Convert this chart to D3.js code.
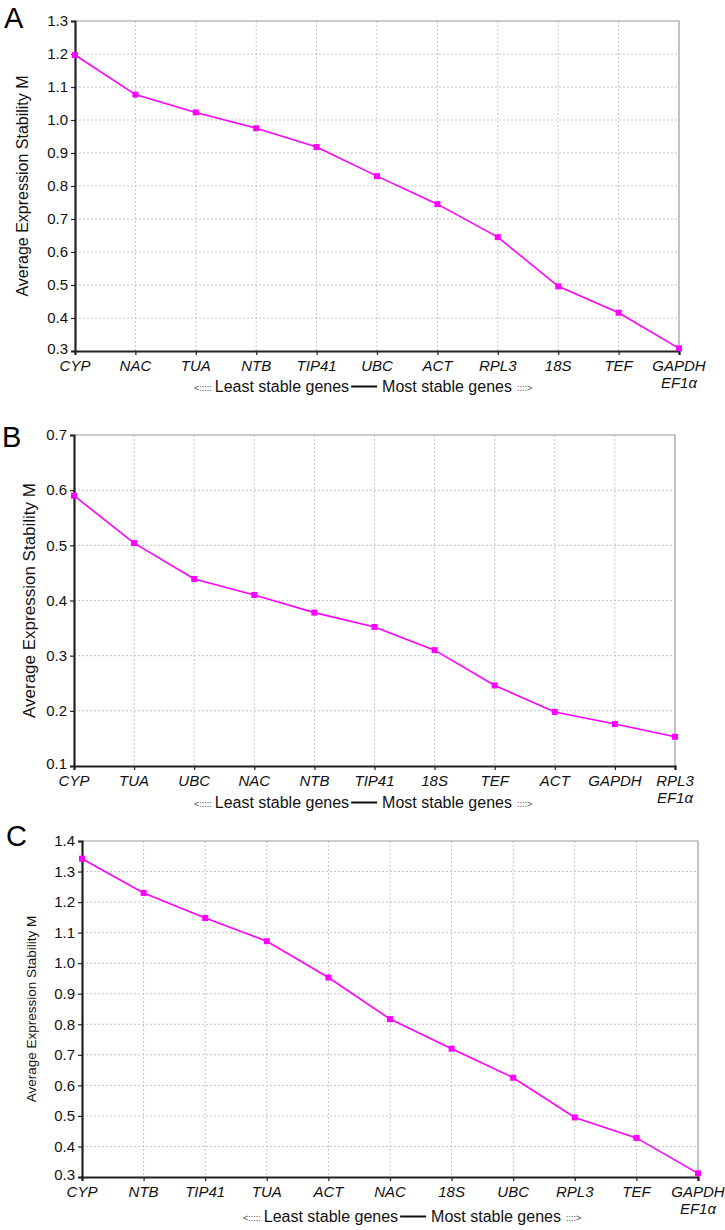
<!DOCTYPE html>
<html>
<head>
<meta charset="utf-8">
<script src="https://cdn.jsdelivr.net/npm/d3@7"></script>
<style>
  body { margin: 0; background: #fff; }
  text { font-family: "Liberation Sans", Arial, sans-serif; }
</style>
</head>
<body>
<script>
// gene order and M values
var genesA = ["CYP", "NAC", "TUA", "NTB", "TIP41", "UBC", "ACT", "RPL3", "18S", "TEF", "GAPDH\nEF1α"];
var valuesA = [1.197, 1.077, 1.023, 0.975, 0.918, 0.830, 0.745, 0.645, 0.496, 0.416, 0.308];
var ticksA = [0.3, 0.4, 0.5, 0.6, 0.7, 0.8, 0.9, 1.0, 1.1, 1.2, 1.3];

var genesB = ["CYP", "TUA", "UBC", "NAC", "NTB", "TIP41", "18S", "TEF", "ACT", "GAPDH", "RPL3\nEF1α"];
var valuesB = [0.590, 0.504, 0.439, 0.410, 0.378, 0.352, 0.310, 0.246, 0.198, 0.176, 0.153];
var ticksB = [0.1, 0.2, 0.3, 0.4, 0.5, 0.6, 0.7];

var genesC = ["CYP", "NTB", "TIP41", "TUA", "ACT", "NAC", "18S", "UBC", "RPL3", "TEF", "GAPDH\nEF1α"];
var valuesC = [1.342, 1.230, 1.148, 1.072, 0.953, 0.817, 0.720, 0.625, 0.495, 0.428, 0.312];
var ticksC = [0.3, 0.4, 0.5, 0.6, 0.7, 0.8, 0.9, 1.0, 1.1, 1.2, 1.3, 1.4];

var W = 725, H = 1230;
var magenta = "#ff00ff";

var svg = d3.select("body").append("svg")
  .attr("width", W).attr("height", H);

var panels = [
  { letter: "A", genes: genesA, values: valuesA, ticks: ticksA,
    left: 75, right: 679, top: 21, bottom: 351,
    titleX: 28, titleSize: 16, lx: 4, ly: 28, arrowX: 194, arrowDy: 41 },
  { letter: "B", genes: genesB, values: valuesB, ticks: ticksB,
    left: 74, right: 675, top: 435, bottom: 766,
    titleX: 35, titleSize: 17, lx: 2, ly: 447, arrowX: 194, arrowDy: 42 },
  { letter: "C", genes: genesC, values: valuesC, ticks: ticksC,
    left: 82, right: 698, top: 841, bottom: 1177,
    titleX: 36, titleSize: 13.5, lx: 6, ly: 846, arrowX: 243, arrowDy: 45 }
];

panels.forEach(drawPanel);

function drawPanel(p) {
  var x = d3.scalePoint().domain(d3.range(p.genes.length)).range([p.left, p.right]);
  var y = d3.scaleLinear().domain(d3.extent(p.ticks)).range([p.bottom, p.top]);
  var g = svg.append("g");

  // panel letter
  g.append("text").attr("x", p.lx).attr("y", p.ly)
    .attr("font-size", 29).text(p.letter);

  // grid
  g.selectAll(".hg").data(p.ticks.slice(1, -1)).enter().append("line")
    .attr("x1", p.left).attr("x2", p.right)
    .attr("y1", function(d) { return y(d); }).attr("y2", function(d) { return y(d); })
    .attr("stroke", "#c4c4c4").attr("stroke-dasharray", "2,2");
  g.selectAll(".vg").data(d3.range(1, p.genes.length - 1)).enter().append("line")
    .attr("x1", function(i) { return x(i); }).attr("x2", function(i) { return x(i); })
    .attr("y1", p.top).attr("y2", p.bottom)
    .attr("stroke", "#c4c4c4").attr("stroke-dasharray", "2,2");

  // top / right frame
  g.append("path")
    .attr("d", "M" + p.left + "," + p.top + "H" + p.right + "V" + p.bottom)
    .attr("fill", "none").attr("stroke", "#9a9a9a").attr("stroke-width", 1.2);

  // y axis
  var yAxis = g.append("g").attr("transform", "translate(" + p.left + ",0)")
    .call(d3.axisLeft(y).tickValues(p.ticks).tickFormat(d3.format(".1f"))
      .tickSize(4).tickPadding(3));
  yAxis.select(".domain").attr("stroke", "#222").attr("stroke-width", 2.2);
  yAxis.selectAll(".tick line").attr("stroke", "#222").attr("stroke-width", 1.2);
  yAxis.selectAll(".tick text").attr("font-size", 15).attr("fill", "#111")
    .attr("font-family", "Liberation Sans, Arial, sans-serif");
  // lowest label sits a touch higher so it clears the first gene name
  yAxis.selectAll(".tick text").filter(function(d) { return d === p.ticks[0]; })
    .attr("dy", "0.18em");

  // x axis
  var xAxis = g.append("g").attr("transform", "translate(0," + p.bottom + ")")
    .call(d3.axisBottom(x).tickSize(4).tickFormat(""));
  xAxis.select(".domain").attr("stroke", "#222").attr("stroke-width", 2.2);
  xAxis.selectAll(".tick line").attr("stroke", "#222").attr("stroke-width", 1.2);

  // gene labels, the last one split over two lines
  p.genes.forEach(function(name, i) {
    name.split("\n").forEach(function(s, k) {
      g.append("text")
        .attr("x", x(i)).attr("y", p.bottom + 20 + k * 16.5)
        .attr("text-anchor", "middle").attr("font-size", 15).attr("font-style", "italic")
        .attr("fill", "#111").text(s);
    });
  });

  // y title
  g.append("text")
    .attr("transform", "translate(" + p.titleX + "," + ((p.top + p.bottom) / 2) + ") rotate(-90)")
    .attr("text-anchor", "middle").attr("font-size", p.titleSize).attr("fill", "#111")
    .text("Average Expression Stability M");

  // line + square markers
  var line = d3.line().x(function(d, i) { return x(i); }).y(function(d) { return y(d); });
  g.append("path").datum(p.values).attr("d", line)
    .attr("fill", "none").attr("stroke", magenta).attr("stroke-width", 1.6);
  g.selectAll(".pt").data(p.values).enter().append("rect")
    .attr("x", function(d, i) { return x(i) - 3; })
    .attr("y", function(d) { return y(d) - 3; })
    .attr("width", 6).attr("height", 6).attr("fill", magenta);

  // "<:::: Least stable genes —— Most stable genes ::::>"
  var by = p.bottom + p.arrowDy, cx = p.arrowX;
  var a1 = g.append("text").attr("x", cx).attr("y", by - 1).attr("font-size", 9)
    .attr("fill", "#444").text("<:::::");
  cx += a1.node().getComputedTextLength() + 3;
  var t1 = g.append("text").attr("x", cx).attr("y", by).attr("font-size", 16)
    .attr("fill", "#111").text("Least stable genes");
  cx += t1.node().getComputedTextLength() + 2;
  g.append("line").attr("x1", cx).attr("x2", cx + 26)
    .attr("y1", by - 5.5).attr("y2", by - 5.5).attr("stroke", "#111").attr("stroke-width", 2);
  cx += 31;
  var t2 = g.append("text").attr("x", cx).attr("y", by).attr("font-size", 16)
    .attr("fill", "#111").text("Most stable genes");
  cx += t2.node().getComputedTextLength() + 5;
  g.append("text").attr("x", cx).attr("y", by - 1).attr("font-size", 9)
    .attr("fill", "#444").text("::::>");
}
</script>
</body>
</html>
